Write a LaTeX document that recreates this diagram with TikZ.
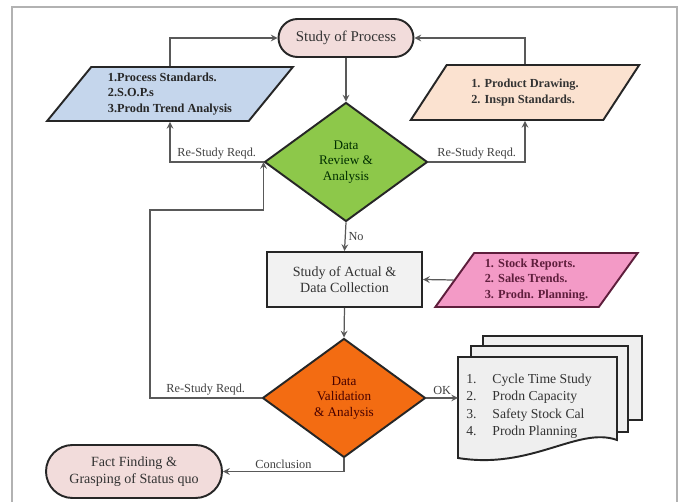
\documentclass[tikz,border=0pt]{standalone}
\usepackage{fontspec}
\setmainfont{Liberation Serif}
\usetikzlibrary{shapes.geometric}

\definecolor{cSP}{HTML}{F2DCDB}
\definecolor{cPS}{HTML}{C5D6EC}
\definecolor{cPD}{HTML}{FBE2D0}
\definecolor{cDR}{HTML}{8DC84A}
\definecolor{cSA}{HTML}{F2F2F2}
\definecolor{cPK}{HTML}{F39AC6}
\definecolor{cPKd}{HTML}{5E1E3C}
\definecolor{cDV}{HTML}{F36C12}
\definecolor{cDoc}{HTML}{EFEFEF}

\begin{document}
\begin{tikzpicture}[x=0.02cm,y=-0.02cm,
 bord/.style={draw=black!85,line width=1.1pt},
 box/.style={bord,align=center,inner sep=1pt,font=\fontsize{8}{9.5}\selectfont,text=black!80},
 io/.style={box,trapezium,trapezium stretches=true,font=\bfseries\fontsize{7}{8.6}\selectfont},
 dec/.style={box,diamond,inner sep=0pt,minimum width=3.26cm,minimum height=2.38cm,font=\fontsize{7.5}{9}\selectfont},
 line/.style={draw=black!65,line width=0.7pt},
 arr/.style={line,->,>=stealth},
 lbl/.style={font=\fontsize{7}{8}\selectfont,text=black!75,inner sep=1.5pt}
]
 \useasboundingbox (0,0) rectangle (683,502); %枠
 \draw[gray!60,line width=0.8pt] (12,503) -- (12,7) -- (677,7) -- (677,503); %外枠

 \node[box,fill=cSP,minimum width=2.7cm,minimum height=0.76cm,rounded corners=0.38cm,font=\fontsize{8.5}{10}\selectfont] (SP) at (346,38) {Study of Process}; %開始
 \node[io,fill=cPS,minimum width=4.92cm,minimum height=1.08cm,trapezium left angle=51.5,trapezium right angle=128.5,align=left,text=black!85] (PS) at (170,94) {1.Process Standards.\\2.S.O.P.s\\3.Prodn Trend Analysis}; %左入力
 \node[io,fill=cPD,minimum width=4.6cm,minimum height=1.1cm,trapezium left angle=49.5,trapezium right angle=130.5,align=left,text=black!80] (PD) at (525,92.5) {1. Product Drawing.\\2. Inspn Standards.}; %右入力
 \node[dec,fill=cDR,text=black!70!green!60!black] (DR) at (346,162) {Data\\Review \&\\Analysis}; %判断1
 \node[box,fill=cSA,minimum width=3.1cm,minimum height=1.1cm] (SA) at (344.5,279.5) {Study of Actual \&\\Data Collection}; %処理
 \node[io,fill=cPK,draw=cPKd,minimum width=4.06cm,minimum height=1.08cm,trapezium left angle=53.5,trapezium right angle=126.5,align=left,text=cPKd] (PK) at (536.5,280) {1. Stock Reports.\\2. Sales Trends.\\3. Prodn. Planning.}; %データ
 \node[dec,fill=cDV,text=black!60!red!70!black] (DV) at (344,398) {Data\\Validation\\\& Analysis}; %判断2
 \node[box,fill=cSP,minimum width=3.52cm,minimum height=1.06cm,rounded corners=0.53cm] (FF) at (134,471.5) {Fact Finding \&\\Grasping of Status quo}; %終了

 \draw[bord,fill=cDoc] (483,336) rectangle (642,420); %書類3
 \draw[bord,fill=cDoc] (471,346) rectangle (628,432); %書類2
 \draw[bord,fill=cDoc] (458,357) -- (617,357) -- (617,440) .. controls (578,426) and (532,470) .. (458,458) -- cycle; %書類1
 \node[inner sep=0pt,font=\fontsize{7.8}{9}\selectfont,text=black!80] (Doc) at (529,406)
  {\renewcommand\arraystretch{1.1}\begin{tabular}{@{}l@{\hspace{9pt}}l@{}}1.&Cycle Time Study\\2.&Prodn Capacity\\3.&Safety Stock Cal\\4.&Prodn Planning\end{tabular}};
 \coordinate (DocIn) at (458,398);
 \coordinate (bend) at (150,210);

 \draw[arr] (SP.south) -- (DR.north);
 \draw[arr] (PS.north) |- (SP.west);
 \draw[arr] (PD.north) |- (SP.east);
 \draw[arr] (DR.west) -| node[lbl,pos=0.25,above] {Re-Study Reqd.} (PS.south);
 \draw[arr] (DR.east) -| node[lbl,pos=0.25,above] {Re-Study Reqd.} (PD.south);
 \draw[arr] (DR.south) -- node[lbl,right] {No} (SA.north);
 \draw[arr] (PK.west) -- (SA.east);
 \draw[arr] (SA.south) -- (DV.north);
 \draw[arr] (DV.west) -| node[lbl,pos=0.25,above] {Re-Study Reqd.} (bend) -- (bend -| DR.west) -- (DR.west);
 \draw[arr] (DV.east) -- node[lbl,above] {OK} (DocIn);
 \draw[arr] (DV.south) |- node[lbl,pos=0.75,above] {Conclusion} (FF.east);
\end{tikzpicture}
\end{document}
